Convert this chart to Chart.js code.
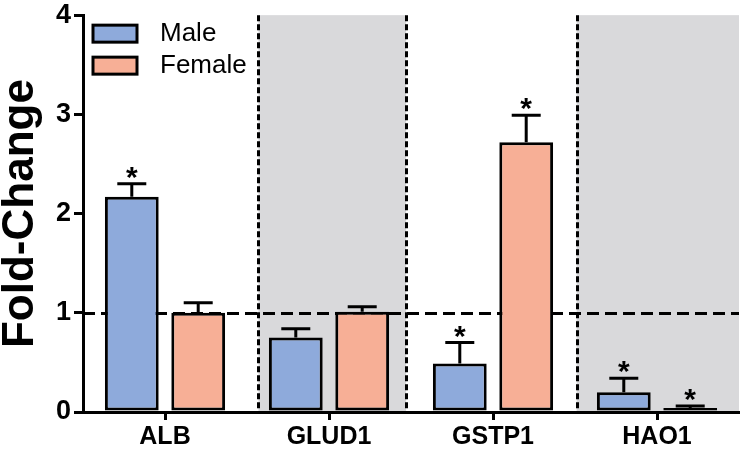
<!DOCTYPE html>
<html>
<head>
<meta charset="utf-8">
<script src="https://cdn.jsdelivr.net/npm/chart.js@4/dist/chart.umd.min.js"></script>
<style>
  html, body { margin: 0; padding: 0; background: #fff; }
  #wrap { width: 740px; height: 454px; position: relative; }
</style>
</head>
<body>
<div id="wrap"><canvas id="c" width="740" height="454"></canvas></div>
<script>
// ---- data ----
const categories = ['ALB', 'GLUD1', 'GSTP1', 'HAO1'];
const seriesNames = ['Male', 'Female'];
const maleValues = [2.17, 0.75, 0.49, 0.20];
const maleErrors = [0.13, 0.09, 0.21, 0.14];
const femaleValues = [1.00, 1.01, 2.72, 0.04];
const femaleErrors = [0.10, 0.05, 0.27, 0.02];
const maleSignificant = [true, false, true, true];
const femaleSignificant = [false, false, true, true];
const yTicks = [0, 1, 2, 3, 4];
const referenceValue = 1;
const separatorPositions = [0.57, 1.47, 2.51];          // in category units
const shadedBands = [[0.57, 1.47], [2.51, 3.5]];        // in category units

const FONT = "Arial, 'Liberation Sans', sans-serif";
const colors = { male: '#8eaadb', female: '#f7af96', band: '#d9d9db' };

const backgroundPlugin = {
  id: 'bg',
  beforeDraw(chart) {
    const { ctx, chartArea: a, scales: { x, y } } = chart;
    ctx.save();
    ctx.fillStyle = colors.band;
    shadedBands.forEach(([s, e]) => {
      const x0 = x.getPixelForValue(s), x1 = Math.min(x.getPixelForValue(e), a.right);
      ctx.fillRect(x0, a.top, x1 - x0, a.bottom - a.top);
    });
    ctx.strokeStyle = '#000';
    ctx.lineWidth = 3;
    ctx.setLineDash([6, 3]);
    separatorPositions.forEach(s => {
      const px = Math.round(x.getPixelForValue(s)) + 0.5;
      ctx.beginPath(); ctx.moveTo(px, a.top); ctx.lineTo(px, a.bottom); ctx.stroke();
    });
    ctx.setLineDash([12, 6]);
    const py = Math.round(y.getPixelForValue(referenceValue)) + 0.5;
    ctx.beginPath(); ctx.moveTo(a.left, py); ctx.lineTo(a.right, py); ctx.stroke();
    ctx.restore();
  }
};

const errorPlugin = {
  id: 'err',
  afterDatasetsDraw(chart) {
    const { ctx, scales: { y } } = chart;
    const errs = [maleErrors, femaleErrors];
    const sig = [maleSignificant, femaleSignificant];
    ctx.save();
    ctx.strokeStyle = '#000';
    ctx.fillStyle = '#000';
    ctx.lineWidth = 3;
    ctx.setLineDash([]);
    chart.data.datasets.forEach((ds, di) => {
      const meta = chart.getDatasetMeta(di);
      meta.data.forEach((bar, i) => {
        const v = ds.data[i];
        const top = y.getPixelForValue(v);
        const cap = y.getPixelForValue(v + errs[di][i]);
        ctx.beginPath();
        ctx.moveTo(bar.x, top); ctx.lineTo(bar.x, cap);
        ctx.moveTo(bar.x - 14.5, cap); ctx.lineTo(bar.x + 14.5, cap);
        ctx.stroke();
        if (sig[di][i]) {
          ctx.font = 'bold 30px ' + FONT;
          ctx.textAlign = 'center';
          ctx.textBaseline = 'alphabetic';
          ctx.fillText('*', bar.x, cap + 3);
        }
      });
    });
    ctx.restore();
  }
};

const legendPlugin = {
  id: 'insideLegend',
  afterDraw(chart) {
    const { ctx, chartArea: a } = chart;
    ctx.save();
    chart.data.datasets.forEach((ds, i) => {
      const bx = a.left + 10, by = a.top + 10 + i * 32;
      ctx.fillStyle = ds.backgroundColor;
      ctx.fillRect(bx, by, 44, 17);
      ctx.strokeStyle = '#000';
      ctx.lineWidth = 3;
      ctx.strokeRect(bx, by, 44, 17);
      ctx.fillStyle = '#000';
      ctx.font = '26px ' + FONT;
      ctx.textAlign = 'left';
      ctx.textBaseline = 'middle';
      ctx.fillText(ds.label, a.left + 77, by + 9);
    });
    ctx.restore();
  }
};

new Chart(document.getElementById('c'), {
  type: 'bar',
  data: {
    labels: categories,
    datasets: [
      { label: seriesNames[0], data: maleValues, backgroundColor: colors.male },
      { label: seriesNames[1], data: femaleValues, backgroundColor: colors.female }
    ]
  },
  options: {
    responsive: false,
    animation: false,
    devicePixelRatio: 1,
    layout: { padding: { top: 13, right: 1, left: 0, bottom: 0 } },
    datasets: {
      bar: {
        borderColor: '#000', borderWidth: 3, borderSkipped: false,
        categoryPercentage: 0.81, barPercentage: 0.81
      }
    },
    plugins: { legend: { display: false }, tooltip: { enabled: false } },
    scales: {
      x: {
        grid: { display: true, drawOnChartArea: false, drawTicks: true, tickLength: 8, color: '#000', lineWidth: 3, offset: false },
        border: { display: true, color: '#000', width: 3 },
        ticks: { color: '#000', font: { family: FONT, size: 25, weight: 'bold' }, padding: 2 },
        afterFit(s) { s.height = 42; }
      },
      y: {
        min: 0, max: 4,
        afterBuildTicks(s) { s.ticks = yTicks.map(v => ({ value: v })); },
        grid: { display: true, drawOnChartArea: false, drawTicks: true, tickLength: 9, color: '#000', lineWidth: 3 },
        border: { display: true, color: '#000', width: 3 },
        ticks: { color: '#000', font: { family: FONT, size: 27, weight: 'bold', lineHeight: 0.9 }, padding: 3 },
        title: { display: true, text: 'Fold-Change', color: '#000', font: { family: FONT, size: 44, weight: 'bold', lineHeight: 0.9 }, padding: { top: 1, bottom: 0 } },
        afterFit(s) { s.width = 83; }
      }
    }
  },
  plugins: [backgroundPlugin, errorPlugin, legendPlugin]
});
</script>
</body>
</html>
